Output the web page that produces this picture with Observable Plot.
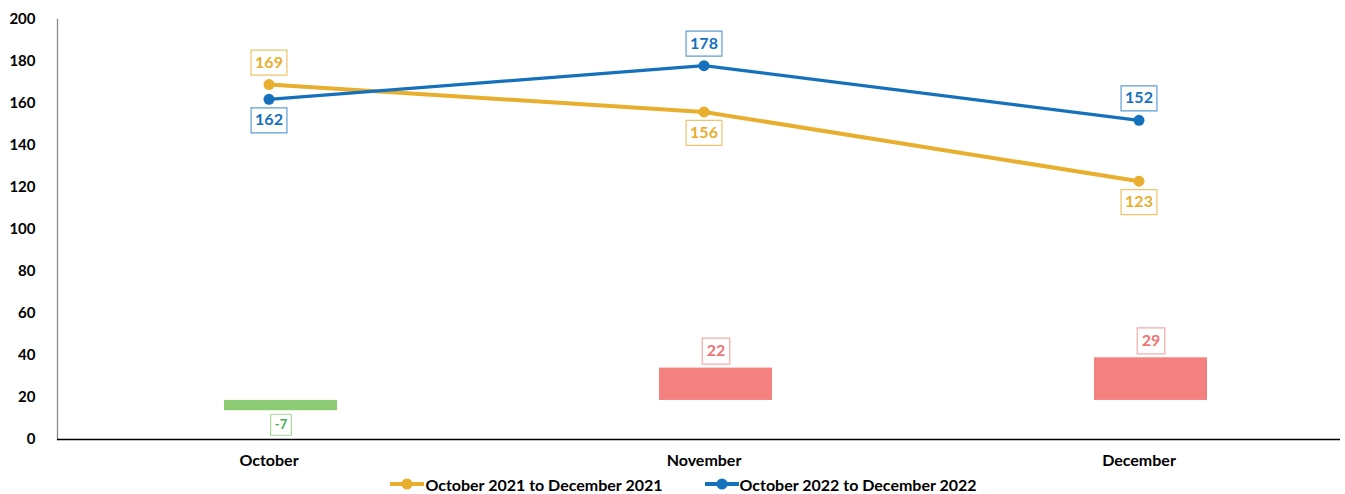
<!DOCTYPE html>
<html><head><meta charset="utf-8">
<script src="https://cdn.jsdelivr.net/npm/d3@7"></script>
<script src="https://cdn.jsdelivr.net/npm/@observablehq/plot@0.6"></script>
<style>
body{margin:0;background:#fff;font-family:Lato,"Open Sans",sans-serif;}
#chart svg{display:block;}
#legend{display:flex;justify-content:center;align-items:center;height:20px;font-weight:700;font-size:16px;color:#000;padding-left:22px;}
.item{display:flex;align-items:center;margin:0 21px;}
.item svg{margin-right:1px;}
</style></head><body>
<div id="chart"></div>
<div id="legend"></div>
<script>
// ---- data ----
const months = ["October", "November", "December"];
const seriesNames = ["October 2021 to December 2021", "October 2022 to December 2022"];
const values2021 = [169, 156, 123];
const values2022 = [162, 178, 152];
const diffs = [-7, 22, 29];
const yTicks = [0, 20, 40, 60, 80, 100, 120, 140, 160, 180, 200];

// ---- styling constants ----
const colors = {s0: "#E8AE2D", s1: "#1571BC", s0b: "#EDC36C", s1b: "#5D9ED6"};
const barUp = "#F48080", barDown = "#8CCA73";
const barBase = 18.6, barScale = 0.7; // difference bars drawn on a secondary scale

const rows = [];
months.forEach((m, i) => {
  const a = values2021[i], b = values2022[i];
  rows.push({month: m, value: a, series: 0, above: a >= b});
  rows.push({month: m, value: b, series: 1, above: b > a});
});
const diffRows = months.map((m, i) => ({month: m, diff: diffs[i], top: barBase + diffs[i] * barScale}));

const box = (w, h) => ({draw(ctx) { ctx.rect(-w / 2, -h / 2, w, h); }});
const textW = (s, fs) => [...s].reduce((t, c) => t + (c === "-" ? 0.33 : 0.58) * fs, 0);

const lineLabelMarks = rows.flatMap(d => {
  const s = String(d.value);
  const dy = d.above ? -22 : 21;
  const stroke = d.series ? colors.s1b : colors.s0b;
  const fill = d.series ? colors.s1 : colors.s0;
  return [
    Plot.dot([d], {x: "month", y: "value", dy, symbol: box(textW(s, 16) + 8, 25), fill: "white", stroke, strokeWidth: 1.2}),
    Plot.text([d], {x: "month", y: "value", dy, text: d => String(d.value), fill, fontSize: 16, fontWeight: "bold"})
  ];
});

const barLabelMarks = diffRows.flatMap(d => {
  const s = String(d.diff);
  const neg = d.diff < 0;
  const fs = neg ? 13 : 16;
  const dy = neg ? 14 : -17;
  const stroke = neg ? "#A9D99A" : "#F7A9A9";
  const fill = neg ? "#45AE4B" : "#F07474";
  return [
    Plot.dot([d], {x: "month", y: "top", dx: 12, dy, symbol: box(textW(s, fs) + 9, neg ? 21 : 26), fill: "white", stroke, strokeWidth: 1.2}),
    Plot.text([d], {x: "month", y: "top", dx: 12, dy, text: d => String(d.diff), fill, fontSize: fs, fontWeight: "bold"})
  ];
});

const chart = Plot.plot({
  width: 1345,
  height: 474,
  marginTop: 19,
  marginBottom: 35,
  marginLeft: 57,
  marginRight: 5,
  style: {fontFamily: "Lato, 'Open Sans', sans-serif", background: "white"},
  x: {type: "band", domain: months, range: [50.5, 1355.5], padding: 0},
  y: {domain: [0, 200]},
  marks: [
    Plot.barY(diffRows, {x: "month", y1: () => barBase, y2: "top", fill: d => d.diff < 0 ? barDown : barUp, insetLeft: 173, insetRight: 149}),
    Plot.frame({anchor: "left", stroke: "#8a8a8a", strokeWidth: 1.3}),
    Plot.ruleY([0], {stroke: "#000", strokeWidth: 1.3}),
    Plot.axisY({ticks: yTicks, tickSize: 0, tickPadding: 22, fontSize: 15, fontWeight: "bold", label: null, fill: "#000"}),
    Plot.axisX({tickSize: 0, tickPadding: 15, fontSize: 16, fontWeight: "bold", label: null, fill: "#000"}),
    Plot.line(rows.filter(d => d.series === 0), {x: "month", y: "value", stroke: colors.s0, strokeWidth: 4}),
    Plot.line(rows.filter(d => d.series === 1), {x: "month", y: "value", stroke: colors.s1, strokeWidth: 3.2}),
    Plot.dot(rows, {x: "month", y: "value", r: 5.5, fill: d => d.series ? colors.s1 : colors.s0}),
    ...lineLabelMarks,
    ...barLabelMarks
  ]
});
document.getElementById("chart").append(chart);

const legend = document.getElementById("legend");
seriesNames.forEach((name, i) => {
  const c = i ? colors.s1 : colors.s0;
  const item = document.createElement("div");
  item.className = "item";
  item.innerHTML = `<svg width="34" height="14"><line x1="0" y1="7" x2="34" y2="7" stroke="${c}" stroke-width="4"/><circle cx="17" cy="7" r="5.5" fill="${c}"/></svg><span>${name}</span>`;
  legend.append(item);
});
</script></body></html>
